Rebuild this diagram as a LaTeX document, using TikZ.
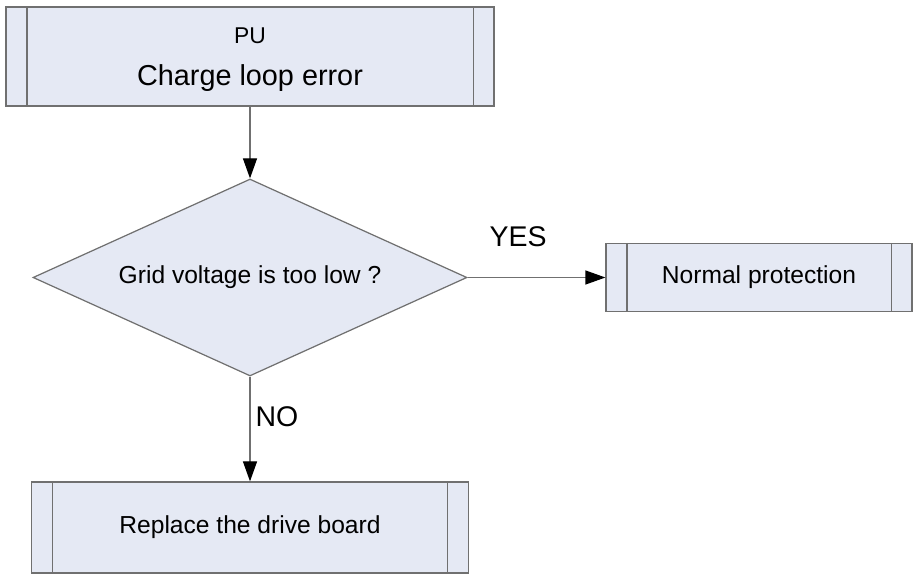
\documentclass[tikz,border=0pt]{standalone}
\usepackage{fontspec}
\setmainfont{Liberation Sans}
\usetikzlibrary{shapes.geometric, positioning, arrows.meta, calc}
\definecolor{boxfill}{RGB}{229,233,244}
\definecolor{linegray}{RGB}{112,112,112}

\begin{document}
\begin{tikzpicture}[>={Triangle[length=0.4cm, width=0.28cm, black]}, font=\fontsize{14}{17}\selectfont, line width=0.7pt]
\tikzset{proc/.style={draw=linegray, fill=boxfill, rectangle, inner sep=0}, cond/.style={draw=linegray, fill=boxfill, diamond, aspect=2.2, inner sep=0}, lbl/.style={font=\fontsize{16.2}{19}\selectfont}, conn/.style={draw=linegray, ->}}
\useasboundingbox (0,0) rectangle (18.3,-11.5);
\node[proc, minimum width=9.76cm, minimum height=1.98cm, align=center, text depth=0pt, font=\fontsize{16.4}{23.5}\selectfont] (P) at (5.0,-1.13) {{\fontsize{13}{23.5}\selectfont PU}\\Charge loop error};
\node[cond, minimum width=8.68cm, minimum height=3.94cm] (D) at (5.0,-5.55) {Grid voltage is too low ?};
\node[proc, minimum width=6.12cm, minimum height=1.36cm] (N) at (15.18,-5.55) {Normal protection};
\node[proc, minimum width=8.74cm, minimum height=1.82cm] (R) at (5.0,-10.55) {Replace the drive board};
\node[lbl] (yes) at (10.36,-4.74) {YES};
\node[lbl] (no) at (5.54,-8.34) {NO};
% side bars of the process boxes
\foreach \n in {P,N,R} {
  \draw[linegray] ([xshift=0.43cm]\n.north west) -- ([xshift=0.43cm]\n.south west);
  \draw[linegray] ([xshift=-0.43cm]\n.north east) -- ([xshift=-0.43cm]\n.south east);
}
\draw[conn] (P) -- (D); \draw[conn] (D) -- (N); \draw[conn] (D) -- (R);
\end{tikzpicture}
\end{document}
